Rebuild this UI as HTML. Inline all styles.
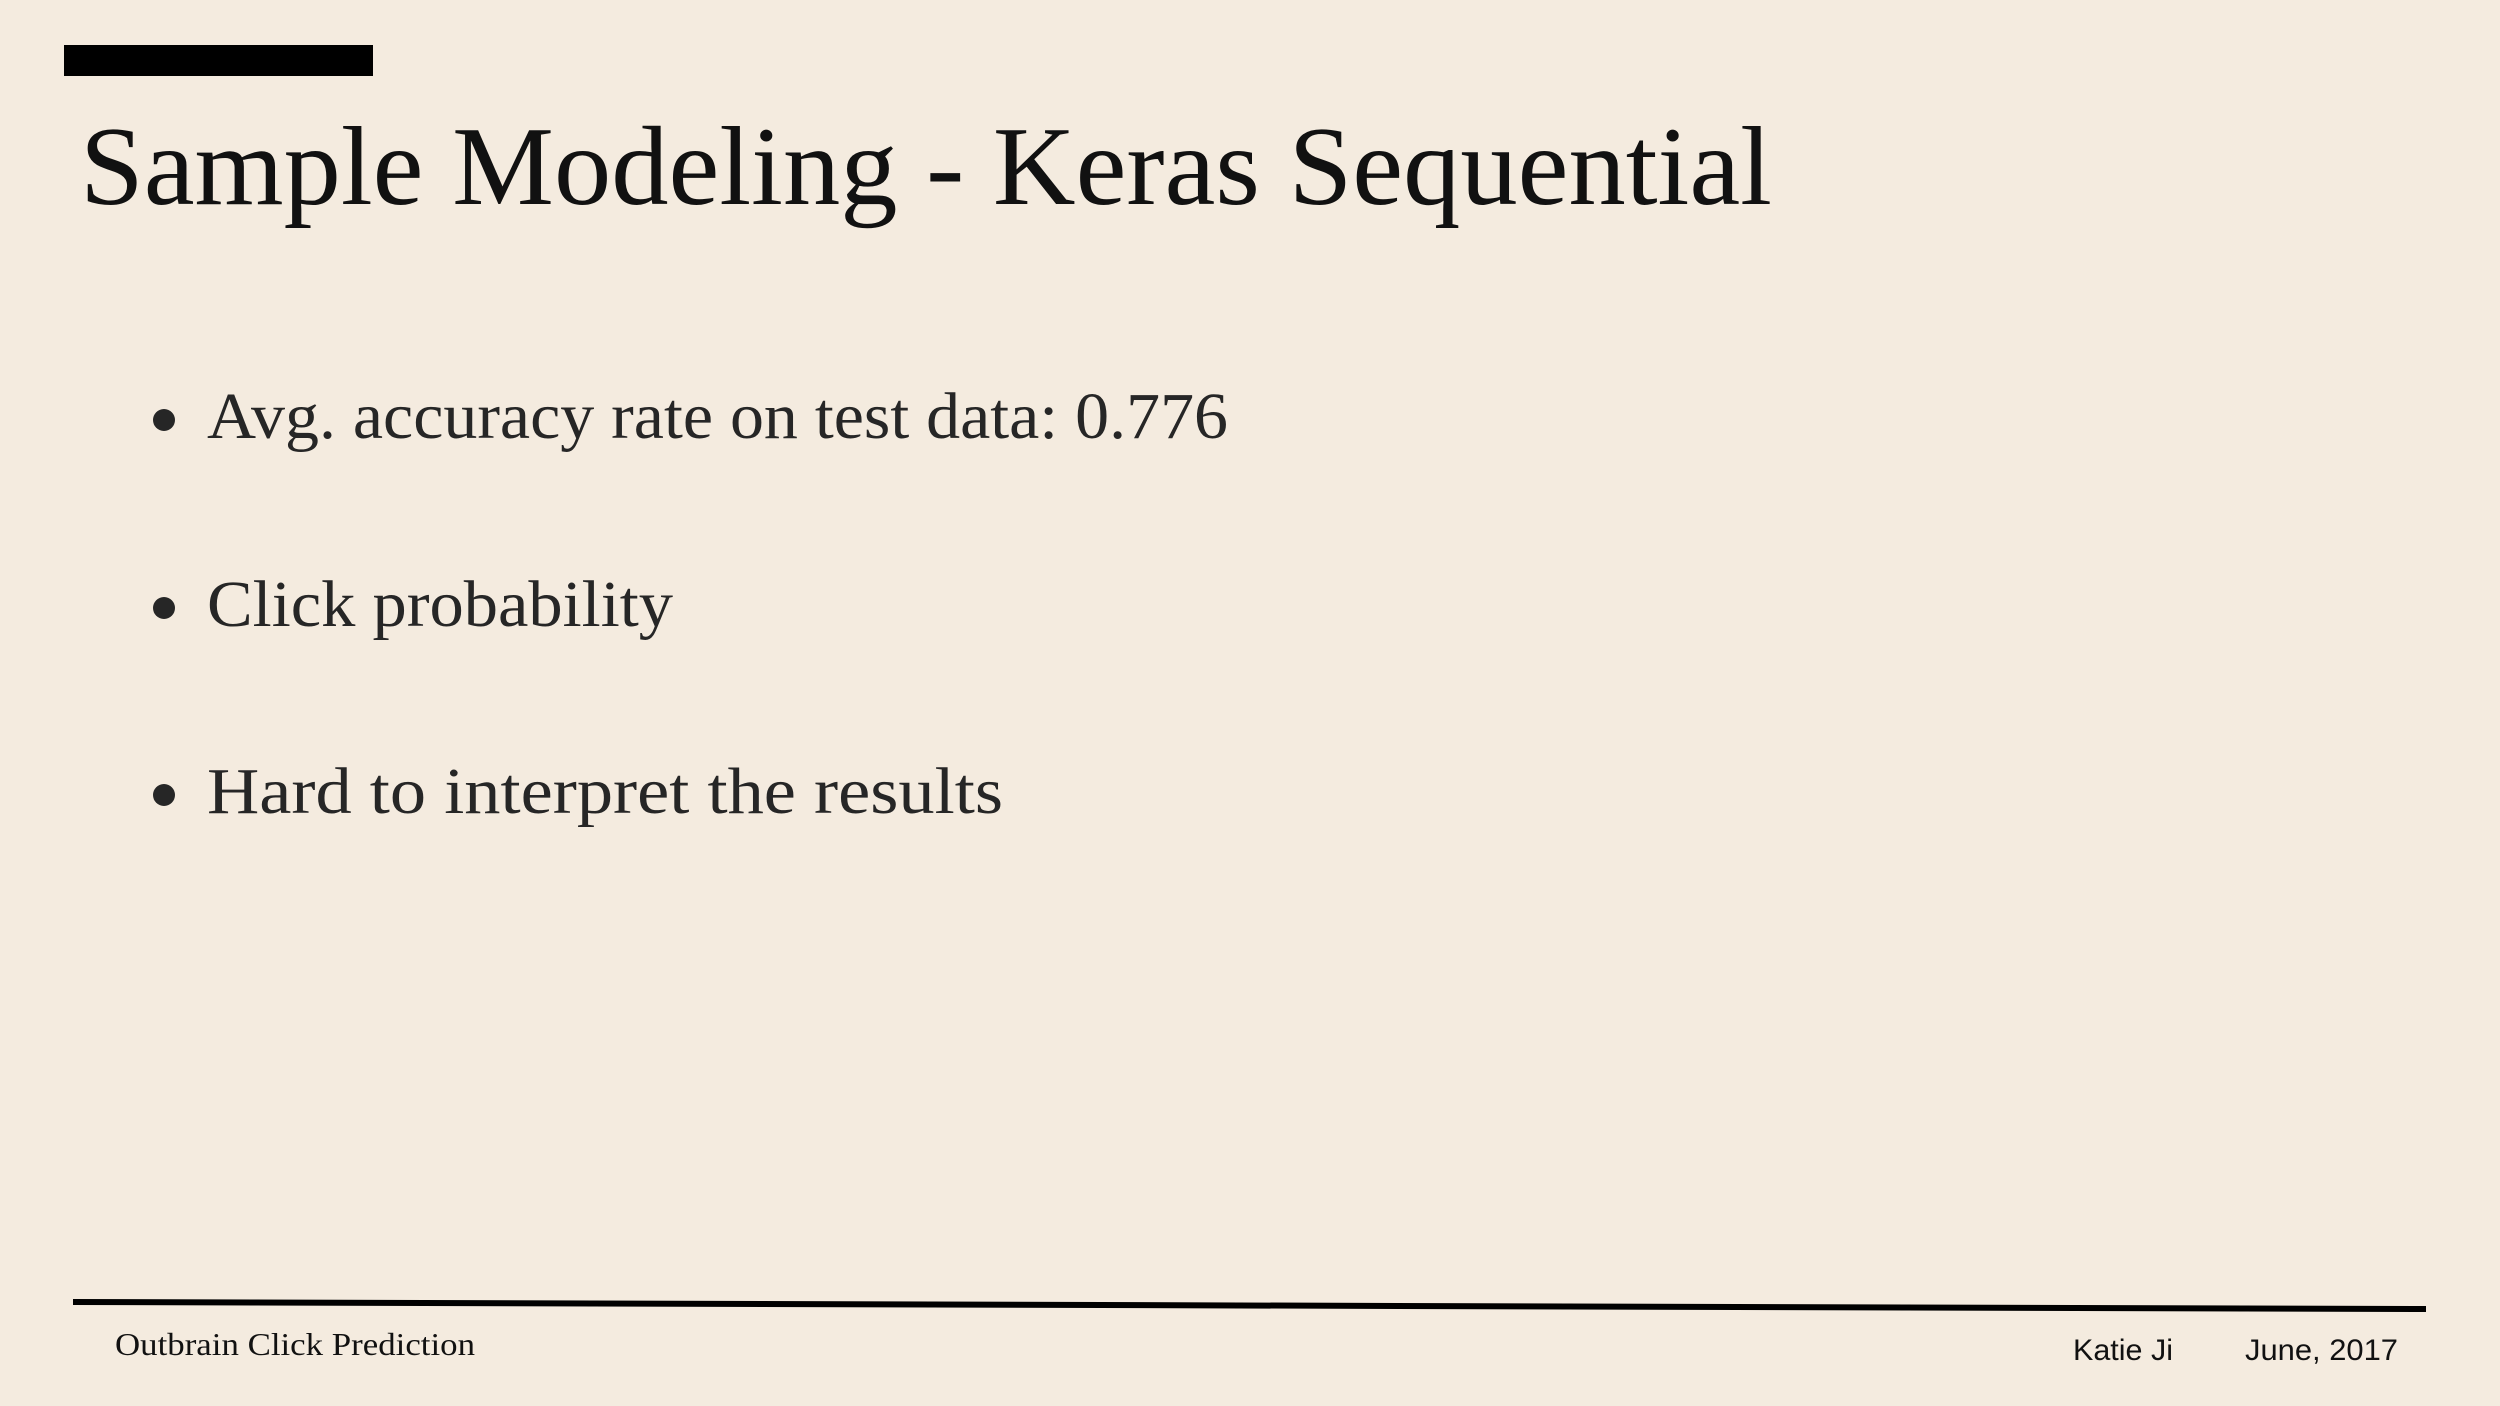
<!DOCTYPE html>
<html><head><meta charset="utf-8"><style>
html,body{margin:0;padding:0;background:#f4ebdf;}
svg{display:block}
</style></head><body>
<svg width="2500" height="1406" viewBox="0 0 2500 1406" xmlns="http://www.w3.org/2000/svg">
<rect x="0" y="0" width="2500" height="1406" fill="#f4ebdf"/>
<rect x="64" y="45" width="309" height="31" fill="#000"/>
<text x="80" y="204" font-family="'Liberation Serif', serif" font-size="112" fill="#111" textLength="1692" lengthAdjust="spacingAndGlyphs">Sample Modeling - Keras Sequential</text>
<g font-family="'Liberation Serif', serif" font-size="66" fill="#262626">
<circle cx="164" cy="420" r="11"/>
<text x="207" y="438" textLength="1021" lengthAdjust="spacingAndGlyphs">Avg. accuracy rate on test data: 0.776</text>
<circle cx="164" cy="608" r="11"/>
<text x="207" y="626" textLength="466" lengthAdjust="spacingAndGlyphs">Click probability</text>
<circle cx="164" cy="795" r="11"/>
<text x="207" y="813" textLength="796" lengthAdjust="spacingAndGlyphs">Hard to interpret the results</text>
</g>
<polygon points="73,1299 2426,1306 2426,1312 73,1305" fill="#000"/>
<text x="115" y="1355" font-family="'Liberation Serif', serif" font-size="32" fill="#111" textLength="360" lengthAdjust="spacingAndGlyphs">Outbrain Click Prediction</text>
<text x="2073" y="1360" font-family="'Liberation Sans', sans-serif" font-size="30" fill="#111" textLength="100" lengthAdjust="spacingAndGlyphs">Katie Ji</text>
<text x="2245" y="1360" font-family="'Liberation Sans', sans-serif" font-size="30" fill="#111" textLength="153" lengthAdjust="spacingAndGlyphs">June, 2017</text>
</svg>
</body></html>
